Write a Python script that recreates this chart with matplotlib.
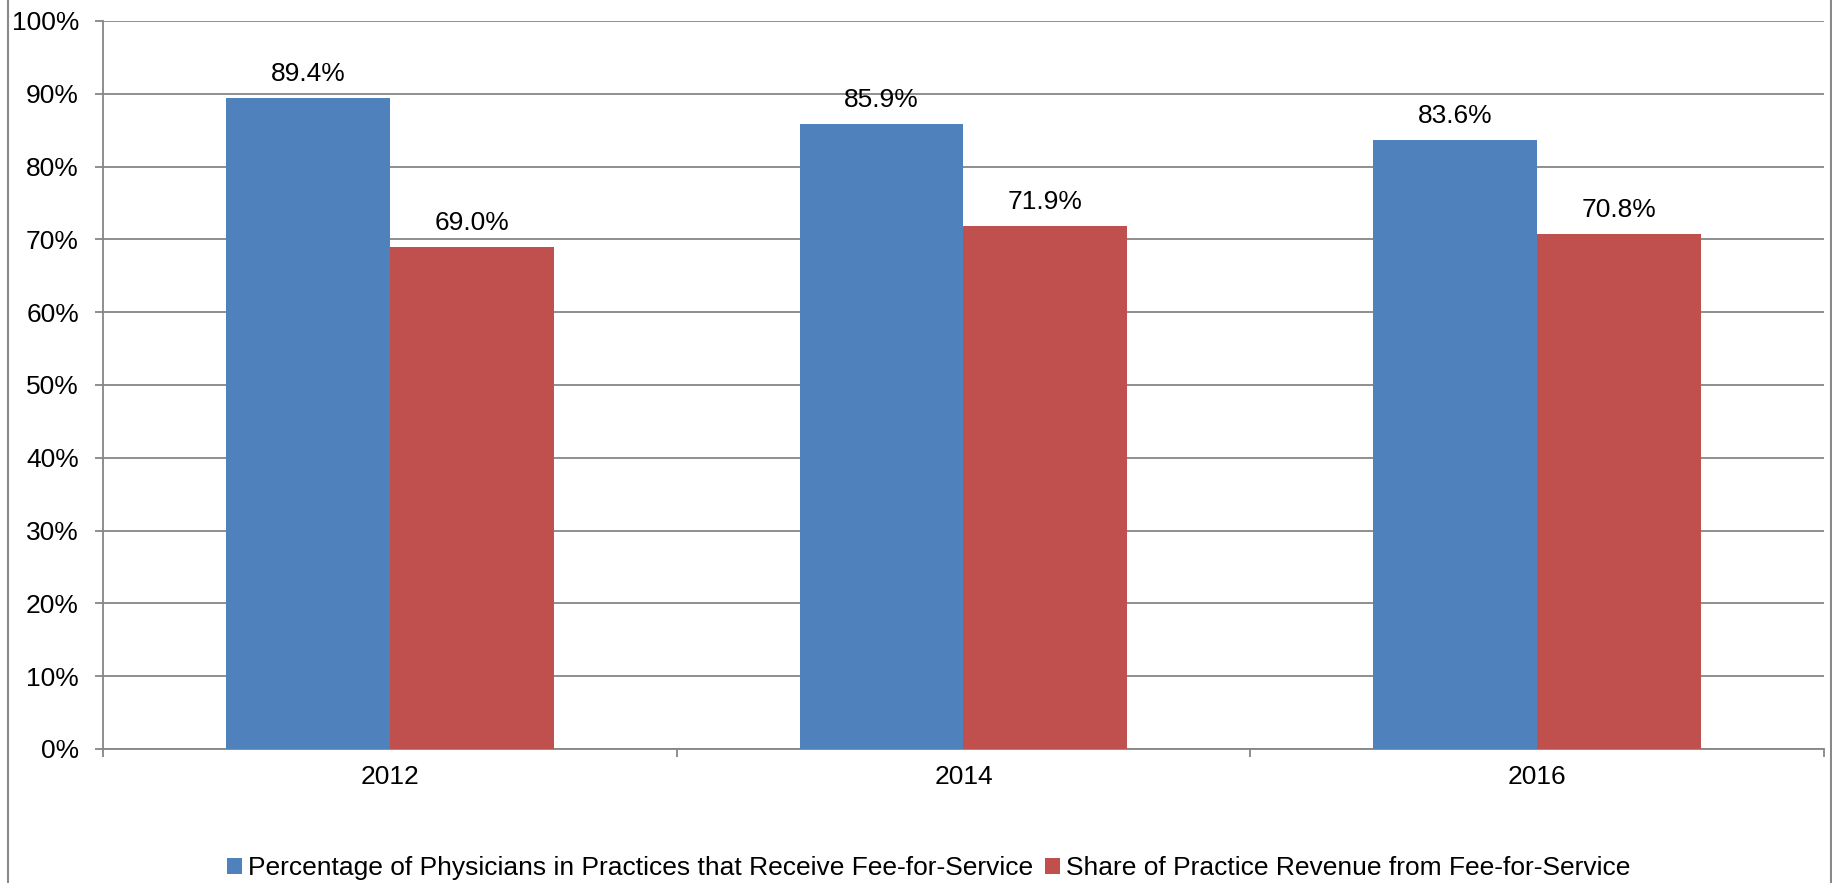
import matplotlib
matplotlib.use("Agg")
import matplotlib.pyplot as plt
from matplotlib.lines import Line2D
from matplotlib.patches import Patch
import numpy as np

plt.rcParams['font.family'] = ['Liberation Sans', 'DejaVu Sans']

years = ["2012", "2014", "2016"]
physicians_ffs = [89.4, 85.9, 83.6]
revenue_ffs = [69.0, 71.9, 70.8]
series_names = ["Percentage of Physicians in Practices that Receive Fee-for-Service",
                "Share of Practice Revenue from Fee-for-Service"]
y_ticks = [0, 10, 20, 30, 40, 50, 60, 70, 80, 90, 100]

blue = "#4F81BD"
red = "#C0504D"
grid_gray = "#868686"

fig = plt.figure(figsize=(18.33, 8.83), dpi=100)
ax = fig.add_axes([103 / 1833, 1 - 749 / 883, (1824 - 103) / 1833, (749 - 21) / 883])

x = np.arange(len(years))
w = 1 / 3.5
b1 = ax.bar(x - w / 2, physicians_ffs, width=w, color=blue, zorder=3)
b2 = ax.bar(x + w / 2, revenue_ffs, width=w, color=red, zorder=3)

for bars, vals in ((b1, physicians_ffs), (b2, revenue_ffs)):
    for rect, v in zip(bars, vals):
        ax.annotate(f"{v:.1f}%", (rect.get_x() + rect.get_width() / 2, v),
                    xytext=(0, 12.2), textcoords="offset points",
                    ha="center", va="baseline", fontsize=19)

ax.set_xlim(-0.5, len(years) - 0.5)
ax.set_ylim(0, 100)
ax.set_yticks(y_ticks)
ax.set_yticklabels([f"{t}%" for t in y_ticks], fontsize=19)
ax.yaxis.grid(True, color=grid_gray, linewidth=1.3, zorder=0)

ax.set_xticks(np.arange(len(years) + 1) - 0.5)
ax.set_xticklabels([])
ax.set_xticks(x, minor=True)
ax.set_xticklabels(years, minor=True, fontsize=19)
ax.tick_params(axis="x", which="minor", length=0, pad=11.5)
ax.tick_params(axis="both", which="major", length=5.8, width=1.3, color=grid_gray)
ax.tick_params(axis="y", pad=11.5)

for side in ("top", "right"):
    ax.spines[side].set_visible(False)
for side in ("left", "bottom"):
    ax.spines[side].set_color(grid_gray)
    ax.spines[side].set_linewidth(1.3)

handles = [Patch(facecolor=blue), Patch(facecolor=red)]
fig.legend(handles, series_names, loc="center", bbox_to_anchor=(929 / 1833, 1 - 868 / 883),
           ncol=2, frameon=False, fontsize=19, handlelength=0.55, handleheight=0.55,
           handletextpad=0.25, columnspacing=0.45, borderpad=0, borderaxespad=0)

# Outer chart frame edges
fig.add_artist(Line2D([8 / 1833, 8 / 1833], [0, 1], color="#898989", linewidth=1.5))
fig.add_artist(Line2D([1831.5 / 1833, 1831.5 / 1833], [0, 1], color="#898989", linewidth=1.5))

fig.savefig("out.png", dpi=100, facecolor="white")
